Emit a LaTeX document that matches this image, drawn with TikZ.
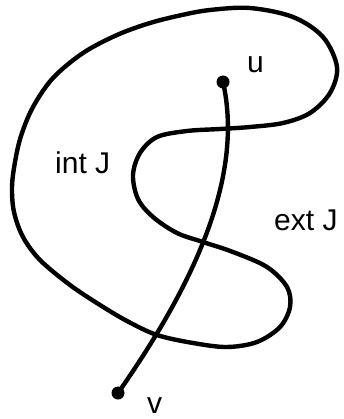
\documentclass[tikz,border=0pt]{standalone}
\usepackage{fontspec}
\setmainfont{Liberation Sans}
\tikzset{
  jordan/.style={line width=4.4pt, line cap=round, line join=round},
  endpt/.style={circle, fill=black, inner sep=0pt, minimum size=13pt},
  lbl/.style={inner sep=0pt, anchor=base west, font=\fontsize{30}{36}\selectfont},
}
\begin{document}
\begin{tikzpicture}[x=1pt, y=-1pt]
  \useasboundingbox (0,0) rectangle (343,419);
  % the closed curve J
  \draw[jordan] plot[smooth cycle, tension=0.55] coordinates {
    (210,10) (250,8) (293,17) (323,37) (337,67) (330,93) (310,113) (283,123)
    (250,127) (220,129) (187,131) (157,137) (140,153) (133,175) (138,199)
    (153,217) (177,233) (203,242) (233,252) (267,267) (287,287) (290,307)
    (280,327) (257,342) (227,347) (193,343) (157,335) (127,321) (100,305)
    (70,285) (40,260) (23,237) (14,212) (12,187) (15,162) (21,136) (33,107)
    (53,78) (83,53) (117,35) (150,23) (182,15)};
  % end points and the arc from u to v
  \node[endpt] (u) at (223,82) {};
  \node[endpt] (v) at (118,393) {};
  \draw[jordan] (u.center) .. controls (245,180) and (190,290) .. (v.center);
  % labels
  \node[lbl] (ulbl) at (247,73) {u};
  \node[lbl] (vlbl) at (147,413) {v};
  \node[lbl] (intJ) at (55,174) {int J};
  \node[lbl] (extJ) at (274,230) {ext J};
\end{tikzpicture}
\end{document}
